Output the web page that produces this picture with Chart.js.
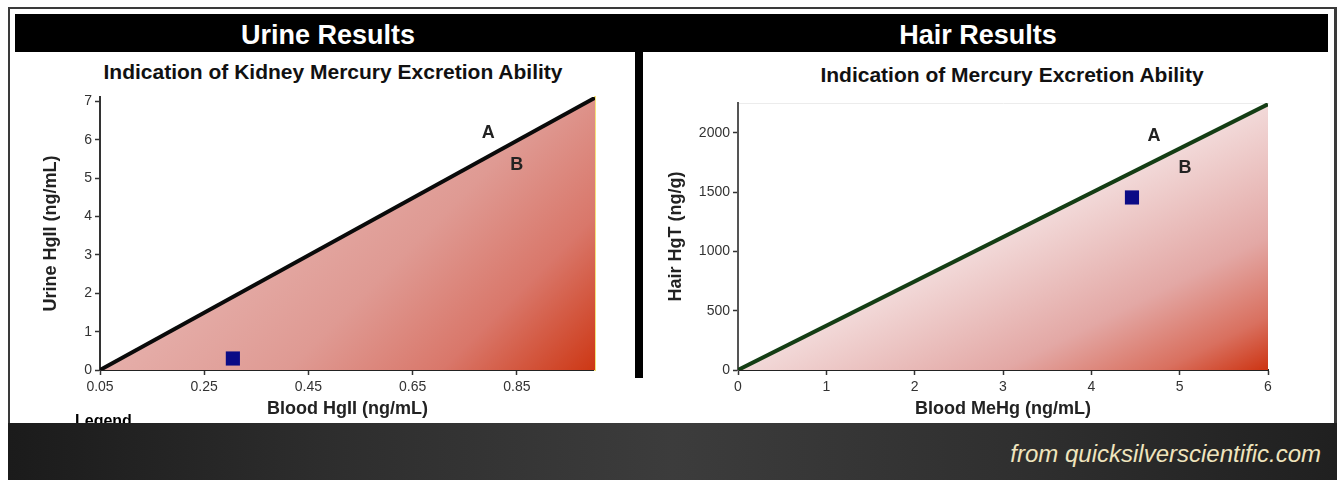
<!DOCTYPE html>
<html><head><meta charset="utf-8">
<script src="https://cdn.jsdelivr.net/npm/chart.js@4.4.1/dist/chart.umd.min.js"></script>
<style>
html,body{margin:0;padding:0}
body{width:1337px;height:480px;background:#fff;position:relative;overflow:hidden;font-family:"Liberation Sans",Arial,sans-serif}
#frame{position:absolute;left:8px;top:7px;width:1329px;height:473px;background:#3a3a3a}
#panel{position:absolute;left:10px;top:9px;width:1324px;height:414px;background:#fff}
.hdr{position:absolute;top:14px;height:38px;background:#000}
.hdrtxt{position:absolute;top:14px;height:38px;line-height:42px;color:#fff;font-weight:bold;font-size:27px;text-align:center;width:400px}
.sub{position:absolute;font-weight:bold;font-size:21px;color:#111;text-align:center;width:600px;line-height:24px}
#divider{position:absolute;left:635px;top:52px;width:8px;height:326px;background:#000}
#legend{position:absolute;left:75px;top:412px;font-weight:bold;font-size:16px;color:#000}
#footer{position:absolute;left:8px;top:423px;width:1329px;height:57px;
 background:linear-gradient(90deg,#1b1b1b 0%,#2e2e2e 25%,#3c3c3c 50%,#303030 75%,#202020 100%)}
#src{position:absolute;right:16px;top:440px;font-style:italic;font-size:24px;color:#efe4bd}
canvas{position:absolute}
</style></head>
<body>
<div id="frame"></div>
<div id="panel"></div>
<div class="hdr" style="left:15px;width:1313px"></div>
<div class="hdrtxt" style="left:128px">Urine Results</div>
<div class="hdrtxt" style="left:778px">Hair Results</div>
<div class="sub" style="left:33px;top:60px">Indication of Kidney Mercury Excretion Ability</div>
<div class="sub" style="left:712px;top:63px">Indication of Mercury Excretion Ability</div>
<div id="divider"></div>
<canvas id="c1" width="618" height="365" style="left:15px;top:55px"></canvas>
<canvas id="c2" width="689" height="365" style="left:643px;top:55px"></canvas>
<div id="legend">Legend</div>
<div id="footer"></div>
<div id="src">from quicksilverscientific.com</div>
<script>
// ---- Urine chart data ----
const urineLineX = [0.05, 1.0];
const urineLineY = [0, 7.1];
const urinePointX = [0.305];
const urinePointY = [0.3];
const urineXTicks = [0.05, 0.25, 0.45, 0.65, 0.85];
const urineXTickLabels = ['0.05', '0.25', '0.45', '0.65', '0.85'];
const urineYTicks = [0, 1, 2, 3, 4, 5, 6, 7];
const urineRegionNames = ['A', 'B'];
const urineRegionX = [0.795, 0.85];
const urineRegionY = [6.19, 5.35];

// ---- Hair chart data ----
const hairLineX = [0, 6];
const hairLineY = [0, 2240];
const hairPointX = [4.46];
const hairPointY = [1454];
const hairXTicks = [0, 1, 2, 3, 4, 5, 6];
const hairYTicks = [0, 500, 1000, 1500, 2000];
const hairRegionNames = ['A', 'B'];
const hairRegionX = [4.71, 5.06];
const hairRegionY = [1972, 1703];

const FONT = '"Liberation Sans", Arial, sans-serif';

const textLabels = {
  id: 'textLabels',
  afterDatasetsDraw(chart, args, opts) {
    const {ctx, scales} = chart;
    ctx.save();
    ctx.font = 'bold 18px ' + FONT;
    ctx.fillStyle = '#222';
    ctx.textAlign = 'center';
    ctx.textBaseline = 'middle';
    opts.names.forEach((n, i) => {
      ctx.fillText(n, scales.x.getPixelForValue(opts.xs[i]), scales.y.getPixelForValue(opts.ys[i]));
    });
    ctx.restore();
  }
};

function makeGradient(stops, wx, wy) {
  return (c) => {
    const chart = c.chart;
    const a = chart.chartArea;
    if (!a) return stops[stops.length - 1][1];
    const W = a.right - a.left, H = a.bottom - a.top;
    const p = (W * wx + H * wy) / (wx * wx + wy * wy);
    const g = chart.ctx.createLinearGradient(a.left, a.top, a.left + p * wx, a.top + p * wy);
    stops.forEach(s => g.addColorStop(s[0], s[1]));
    return g;
  };
}

function zip(xs, ys) { return xs.map((x, i) => ({x, y: ys[i]})); }

function buildChart(id, cfg) {
  return new Chart(document.getElementById(id), {
    type: 'scatter',
    data: {
      datasets: [
        {
          data: zip(cfg.pointX, cfg.pointY),
          pointStyle: 'rect', pointRadius: 10, pointHoverRadius: 10,
          backgroundColor: '#0b0b86', borderColor: '#0b0b86', borderWidth: 0,
          order: 0
        },
        {
          data: zip(cfg.lineX, cfg.lineY),
          showLine: true, borderColor: cfg.lineColor, borderWidth: 4,
          pointRadius: 0, fill: 'origin', tension: 0,
          backgroundColor: cfg.fill,
          order: 1
        }
      ]
    },
    options: {
      responsive: false, animation: false, devicePixelRatio: 1,
      layout: {padding: cfg.padding},
      plugins: {
        legend: {display: false}, tooltip: {enabled: false}, title: {display: false},
        textLabels: {names: cfg.names, xs: cfg.nameX, ys: cfg.nameY}
      },
      scales: {
        x: {
          type: 'linear', min: cfg.xMin, max: cfg.xMax, position: 'bottom',
          afterBuildTicks: s => { s.ticks = cfg.xTicks.map(v => ({value: v})); },
          afterFit: s => { s.height = cfg.xAxisHeight; },
          ticks: {
            color: '#333', font: {family: FONT, size: 14}, padding: 4, maxRotation: 0, autoSkip: false,
            callback: (v) => cfg.xLabel(v)
          },
          grid: {drawOnChartArea: false, drawTicks: true, tickLength: 5, color: '#333', tickWidth: 1.5},
          border: {display: true, color: '#222', width: 2},
          title: {display: true, text: cfg.xTitle, color: '#222', font: {family: FONT, size: 18, weight: 'bold'}, padding: {top: 0, bottom: 0}}
        },
        x2: {
          type: 'linear', position: 'top', min: cfg.xMin, max: cfg.xMax, display: cfg.topBorder ? true : false,
          afterFit: s => { s.height = 0; },
          ticks: {display: false}, grid: {display: false, drawTicks: false},
          border: {display: true, color: cfg.topBorder || 'transparent', width: 1}
        },
        y: {
          type: 'linear', min: 0, max: cfg.yMax, position: 'left',
          afterBuildTicks: s => { s.ticks = cfg.yTicks.map(v => ({value: v})); },
          afterFit: s => { s.width = cfg.yAxisWidth; },
          ticks: {color: '#333', font: {family: FONT, size: 14}, padding: 3, autoSkip: false, callback: v => String(v)},
          grid: {drawOnChartArea: false, drawTicks: true, tickLength: 5, color: '#333', tickWidth: 1.5},
          border: {display: true, color: cfg.yAxisColor, width: 2},
          title: {display: true, text: cfg.yTitle, color: '#222', font: {family: FONT, size: 18, weight: 'bold'}, padding: {top: 0, bottom: 0}}
        },
        y2: {
          type: 'linear', position: 'right', min: 0, max: cfg.yMax, display: cfg.rightBorder ? true : false,
          afterFit: s => { s.width = 0; },
          ticks: {display: false}, grid: {display: false, drawTicks: false},
          border: {display: true, color: cfg.rightBorder || 'transparent', width: 2}
        }
      }
    },
    plugins: [textLabels]
  });
}

buildChart('c1', {
  lineX: urineLineX, lineY: urineLineY, pointX: urinePointX, pointY: urinePointY,
  names: urineRegionNames, nameX: urineRegionX, nameY: urineRegionY,
  xMin: 0.05, xMax: 1.0, yMax: 7.12,
  xTicks: urineXTicks, xLabel: v => urineXTickLabels[urineXTicks.findIndex(t => Math.abs(t - v) < 1e-9)] ?? '',
  yTicks: urineYTicks,
  xTitle: 'Blood HgII (ng/mL)', yTitle: 'Urine HgII (ng/mL)',
  lineColor: '#0a0a0a', yAxisColor: '#333',
  padding: {left: 25, right: 38, top: 42, bottom: 0},
  yAxisWidth: 60, xAxisHeight: 50,
  rightBorder: '#f4e27a', topBorder: null,
  fill: makeGradient([[0, '#f0d0ce'], [0.2, '#e9bbb8'], [0.6, '#df9a93'], [0.8, '#d9776a'], [1, '#cd3714']], 1, 1)
});

buildChart('c2', {
  lineX: hairLineX, lineY: hairLineY, pointX: hairPointX, pointY: hairPointY,
  names: hairRegionNames, nameX: hairRegionX, nameY: hairRegionY,
  xMin: 0, xMax: 6, yMax: 2250,
  xTicks: hairXTicks, xLabel: v => String(v),
  yTicks: hairYTicks,
  xTitle: 'Blood MeHg (ng/mL)', yTitle: 'Hair HgT (ng/g)',
  lineColor: '#143d14', yAxisColor: '#555',
  padding: {left: 22, right: 64, top: 48, bottom: 0},
  yAxisWidth: 73, xAxisHeight: 50,
  rightBorder: null, topBorder: '#ececec',
  fill: makeGradient([[0, '#ffffff'], [0.45, '#f5e3e3'], [0.75, '#e3a8a5'], [0.9, '#d9705f'], [1, '#cd3412']], 1, 2)
});
</script>
</body></html>
